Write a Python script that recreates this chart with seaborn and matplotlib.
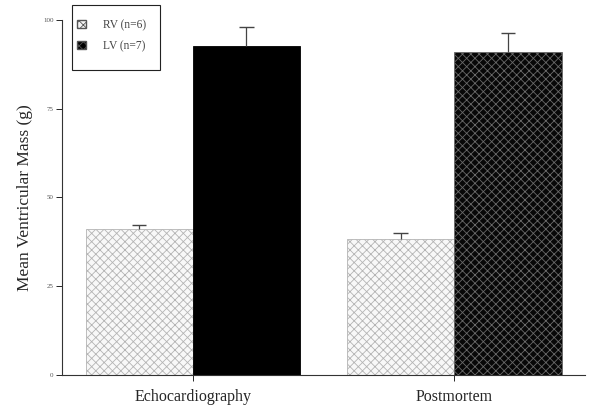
import matplotlib
matplotlib.use("Agg")
import matplotlib.pyplot as plt
import seaborn as sns
import pandas as pd
from matplotlib.patches import Patch, Rectangle

categories = ["Echocardiography", "Postmortem"]
series = ["RV (n=6)", "LV (n=7)"]
rv_mean = [41.1, 38.3]
rv_err = [1.2, 1.7]
lv_mean = [92.7, 91.0]
lv_err = [5.3, 5.3]
y_ticks = [0, 25, 50, 75, 100]

sns.set_style("white")
plt.rcParams['font.family'] = ['Liberation Serif', 'DejaVu Serif']
plt.rcParams['hatch.linewidth'] = 0.6

df = pd.DataFrame({
    "cat": categories * 2,
    "series": [series[0]] * 2 + [series[1]] * 2,
    "val": rv_mean + lv_mean,
})
errs = rv_err + lv_err

fig = plt.figure(figsize=(5.96, 4.05), dpi=100)
ax = fig.add_axes([0.104, 0.074, 0.878, 0.877])
sns.barplot(data=df, x="cat", y="val", hue="series", order=categories,
            hue_order=series, width=0.82, ax=ax, legend=False,
            palette=["#f2f2f2", "#000000"], saturation=1)

bars = [p for p in ax.patches][:4]
styles = [
    dict(fc="#f8f8f8", ec="#b4b4b4", hatch="xxxx"),
    dict(fc="#f8f8f8", ec="#b4b4b4", hatch="xxxx"),
    dict(fc="#000000", ec="#000000", hatch=None),
    dict(fc="#080808", ec="#6a6a6a", hatch="xxxx"),
]
for p, st in zip(bars, styles):
    p.set_facecolor(st["fc"])
    p.set_edgecolor(st["ec"])
    p.set_linewidth(0.6)
    if st["hatch"]:
        p.set_hatch(st["hatch"])

for p, e, v in zip(bars, errs, rv_mean + lv_mean):
    cx = p.get_x() + p.get_width() / 2
    ax.vlines(cx, v, v + e, color="#444444", lw=0.9)
    ax.hlines(v + e, cx - 0.028, cx + 0.028, color="#444444", lw=1.0)

ax.set_xlim(-0.5, 1.5)
ax.set_ylim(0, 100)
ax.set_yticks(y_ticks)
ax.set_yticklabels([str(t) for t in y_ticks], fontsize=5, color="#555555")
ax.tick_params(axis="y", length=4, width=0.7, direction="out", left=True, pad=2)
ax.tick_params(axis="x", length=4, width=0.7, direction="out", bottom=True,
               labelsize=11.5, pad=6)
ax.set_xlabel("")
ax.set_ylabel("Mean Ventricular Mass (g)", fontsize=12.5)
ax.yaxis.set_label_coords(-0.056, 0.5)
sns.despine(ax=ax)
for s in ["left", "bottom"]:
    ax.spines[s].set_linewidth(0.8)
    ax.spines[s].set_color("#333333")

handles = [Patch(facecolor="#f4f4f4", edgecolor="#555555", hatch="xxxx", label=series[0]),
           Patch(facecolor="#000000", edgecolor="#555555", hatch="xxxx", label=series[1])]
leg = fig.legend(handles=handles, loc="upper left", bbox_to_anchor=(77 / 596, 1 - 19 / 405),
                 bbox_transform=fig.transFigure, fontsize=8.3, frameon=False,
                 handlelength=0.75, handleheight=0.75, borderpad=0, labelspacing=0.8,
                 handletextpad=1.5, borderaxespad=0)
for t in leg.get_texts():
    t.set_color("#444444")
fig.patches.append(Rectangle((72 / 596, 1 - 70 / 405), 88 / 596, 65 / 405,
                             transform=fig.transFigure, fill=False,
                             edgecolor="#222222", linewidth=0.8))

fig.savefig("out.png", dpi=100)
